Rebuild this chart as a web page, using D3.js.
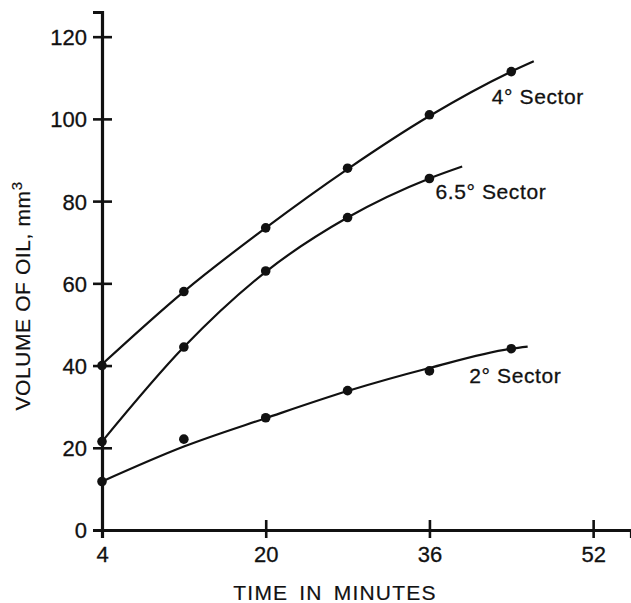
<!DOCTYPE html>
<html>
<head>
<meta charset="utf-8">
<script src="https://cdn.jsdelivr.net/npm/d3@7"></script>
<style>
  html, body { margin: 0; padding: 0; background: #fff; }
  svg { display: block; }
  text { font-family: "Liberation Sans", Arial, Helvetica, sans-serif; fill: #111; }
</style>
</head>
<body>
<svg id="chart" width="631" height="603"></svg>
<script>
// ---- data ----
const xTicks = [4, 20, 36, 52];
const yTicks = [0, 20, 40, 60, 80, 100, 120];

const seriesNames = ["4° Sector", "6.5° Sector", "2° Sector"];

// measured points (time in minutes, volume mm3)
const times = [4, 12, 20, 28, 36, 44];
const vol4  = [40, 58, 73.5, 88, 101, 111.5];
const times65 = [4, 12, 20, 28, 36];
const vol65 = [21.5, 44.5, 63, 76, 85.5];
const vol2  = [11.8, 22.1, 27.3, 33.9, 38.7, 44.1];

// fitted curves as drawn in the figure
const curve4x  = [4, 12, 20, 28, 36, 44, 46.2];
const curve4y  = [40.3, 58, 73.5, 87.8, 100.7, 111.5, 114];
const curve65x = [4, 12, 20, 28, 36, 39.2];
const curve65y = [21.5, 44.5, 62.8, 76, 85.5, 88.4];
const curve2x  = [4, 12, 20, 28, 36, 44, 45.6];
const curve2y  = [11.8, 20.3, 27.2, 33.8, 39.4, 44.1, 44.6];

// label anchors (data coords)
const labelX = [42.1, 36.6, 39.9];
const labelY = [103.6, 80.5, 35.8];

// ---- drawing ----
const svg = d3.select("#chart");
const x = d3.scaleLinear().domain([4, 55.7]).range([102, 631]);
const y = d3.scaleLinear().domain([0, 126]).range([530, 12]);

const axisFont = 22;

// X axis
const gx = svg.append("g").attr("transform", `translate(0,${y(0)})`)
  .call(d3.axisBottom(x).tickValues(xTicks).tickSizeOuter(0).tickSize(8).tickPadding(0));
gx.select(".domain").attr("stroke", "#111").attr("stroke-width", 3.2);
gx.selectAll(".tick line").attr("stroke", "#111").attr("stroke-width", 2.6).attr("y1", -10).attr("y2", 8);
gx.selectAll(".tick text").attr("font-size", axisFont).attr("dy", null).attr("y", 32)
  .attr("fill", "#111").style("font-family", "Liberation Sans, Arial, sans-serif")
  .attr("stroke", "#111").attr("stroke-width", 0.3);

// Y axis
const gy = svg.append("g").attr("transform", `translate(${x(4)},0)`)
  .call(d3.axisLeft(y).tickValues(yTicks).tickSizeOuter(0).tickSize(9).tickPadding(0));
gy.select(".domain").attr("stroke", "#111").attr("stroke-width", 3.2);
gy.selectAll(".tick line").attr("stroke", "#111").attr("stroke-width", 2.6).attr("x1", -9).attr("x2", 10);
gy.selectAll(".tick text").attr("font-size", axisFont).attr("x", -15).attr("dy", "0.36em")
  .attr("fill", "#111").style("font-family", "Liberation Sans, Arial, sans-serif")
  .attr("stroke", "#111").attr("stroke-width", 0.3);

// Axis titles
svg.append("text")
  .attr("x", 335).attr("y", 600)
  .attr("text-anchor", "middle")
  .attr("font-size", 21)
  .attr("letter-spacing", 1.2)
  .attr("word-spacing", 4)
  .attr("stroke", "#111").attr("stroke-width", 0.2)
  .text("TIME IN MINUTES");

const yl = svg.append("text")
  .attr("transform", "translate(30,296) rotate(-90)")
  .attr("text-anchor", "middle")
  .attr("font-size", 21)
  .attr("letter-spacing", 0.6)
  .attr("stroke", "#111").attr("stroke-width", 0.2);
yl.append("tspan").text("VOLUME OF OIL, mm");
yl.append("tspan").attr("font-size", 15).attr("dy", -8).text("3");

// Curves
const line = d3.line().x(d => x(d[0])).y(d => y(d[1])).curve(d3.curveMonotoneX);
const curves = [
  d3.zip(curve4x, curve4y),
  d3.zip(curve65x, curve65y),
  d3.zip(curve2x, curve2y)
];
svg.append("g").selectAll("path").data(curves).join("path")
  .attr("d", line)
  .attr("fill", "none")
  .attr("stroke", "#111")
  .attr("stroke-width", 2.2);

// Points
const pts = [
  ...d3.zip(times, vol4),
  ...d3.zip(times65, vol65),
  ...d3.zip(times, vol2)
];
svg.append("g").selectAll("circle").data(pts).join("circle")
  .attr("cx", d => x(d[0])).attr("cy", d => y(d[1]))
  .attr("r", 4.8).attr("fill", "#111");

// Series labels
svg.append("g").selectAll("text").data(seriesNames).join("text")
  .attr("x", (d, i) => x(labelX[i]))
  .attr("y", (d, i) => y(labelY[i]))
  .attr("font-size", 21)
  .attr("letter-spacing", 0.6)
  .attr("stroke", "#111").attr("stroke-width", 0.3)
  .text(d => d);
</script>
</body>
</html>
